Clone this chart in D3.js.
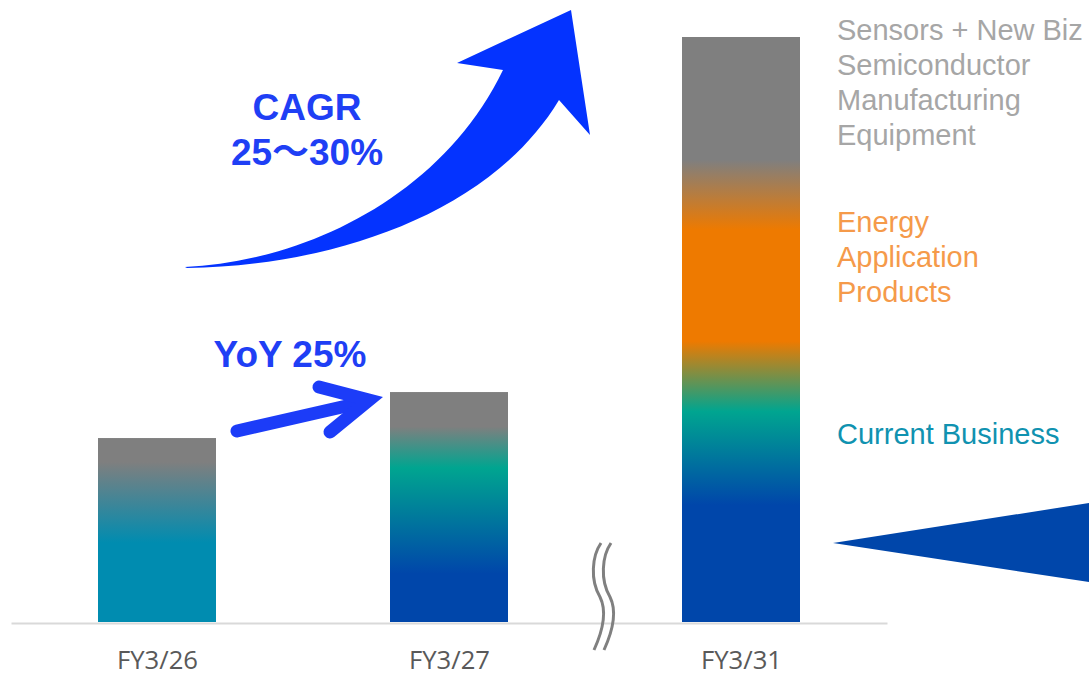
<!DOCTYPE html>
<html>
<head>
<meta charset="utf-8">
<script src="https://cdn.jsdelivr.net/npm/d3@7"></script>
<style>
  html, body { margin: 0; padding: 0; background: #fff; }
  svg { display: block; }
</style>
</head>
<body>
<svg id="chart" width="1089" height="676"></svg>
<script>
// ---------- data ----------
const categories = ["FY3/26", "FY3/27", "FY3/31"];
const totals = [100, 125, 318];            // index, FY3/26 = 100
const legendSensors = ["Sensors + New Biz", "Semiconductor", "Manufacturing", "Equipment"];
const legendEnergy = ["Energy", "Application", "Products"];
const legendCurrent = ["Current Business"];
const cagrLabel = ["CAGR", "25\uFF5E30%"];
const yoyLabel = "YoY 25%";

// ---------- styles ----------
const GRAY = "#7f7f7f", TEAL = "#008cb0", GREEN = "#00a590", BLUE = "#0046aa", ORANGE = "#ee7a00";
const barStops = [
  [[0, GRAY], [0.13, GRAY], [0.57, TEAL], [1, TEAL]],
  [[0, GRAY], [0.15, GRAY], [0.33, GREEN], [0.79, BLUE], [1, BLUE]],
  [[0, GRAY], [0.21, GRAY], [0.33, ORANGE], [0.52, ORANGE], [0.64, GREEN], [0.80, BLUE], [1, BLUE]]
];

const svg = d3.select("#chart");
const baseY = 622, topY = 37;
const x = d3.scalePoint().domain(categories).range([11, 887]).padding(0.5);
const y = d3.scaleLinear().domain([0, d3.max(totals)]).range([baseY, topY]);
const barW = 118;

// gradients
const defs = svg.append("defs");
barStops.forEach((stops, i) => {
  const g = defs.append("linearGradient").attr("id", "g" + i)
    .attr("x1", 0).attr("y1", 0).attr("x2", 0).attr("y2", 1);
  stops.forEach(s => g.append("stop").attr("offset", s[0]).attr("stop-color", s[1]));
});

// bars
svg.selectAll("rect.bar").data(totals).join("rect")
  .attr("class", "bar")
  .attr("x", (d, i) => x(categories[i]) - barW / 2)
  .attr("y", d => y(d))
  .attr("width", barW)
  .attr("height", d => baseY - y(d))
  .attr("fill", (d, i) => `url(#g${i})`);

// axis
const xAxis = d3.axisBottom(x).tickSize(0).tickPadding(28);
const ax = svg.append("g").attr("transform", `translate(0,${baseY + 1})`).call(xAxis);
ax.select(".domain").attr("stroke", "#d9d9d9").attr("stroke-width", 2);
ax.selectAll("text")
  .attr("fill", "#595959")
  .attr("font-family", "'Open Sans', 'Noto Sans', sans-serif")
  .attr("font-size", 25)
  .attr("textLength", 81)
  .attr("lengthAdjust", "spacingAndGlyphs");

// break symbol
const bx = (x(categories[1]) + x(categories[2])) / 2 + 4;
[0, 10].forEach(off => {
  svg.append("path")
    .attr("d", `M${bx + 2 + off},543 C${bx - 7 + off},556 ${bx - 9 + off},580 ${bx + 1 + off},597 C${bx + 7 + off},609 ${bx + 5 + off},628 ${bx - 5 + off},650`)
    .attr("fill", "none").attr("stroke", "#808080").attr("stroke-width", 3);
});

// CAGR arrow
svg.append("path")
  .attr("d", "M185,267 C300,262 440,200 503,70 L457,63 L571,10 L590,135 L559,100 C490,215 330,266 187,268 Z")
  .attr("fill", "#0433ff");

// YoY arrow
const yoy = svg.append("g").attr("fill", "none").attr("stroke", "#1c3cf8").attr("stroke-width", 13);
yoy.append("path").attr("d", "M237,431 L364,402").attr("stroke-linecap", "round");
yoy.append("path").attr("d", "M319,387 L369,400 L330,432").attr("stroke-linecap", "round").attr("stroke-linejoin", "miter");

// annotation texts
const boldFont = "'Liberation Sans', Arial, 'Noto Sans CJK JP', sans-serif";
svg.selectAll("text.cagr").data(cagrLabel).join("text")
  .attr("class", "cagr")
  .attr("x", 307).attr("y", (d, i) => 120 + i * 45)
  .attr("text-anchor", "middle")
  .attr("font-family", boldFont).attr("font-weight", "bold").attr("font-size", 37)
  .attr("fill", "#1f3ff5").text(d => d);

svg.append("text").attr("x", 290).attr("y", 367)
  .attr("text-anchor", "middle")
  .attr("font-family", boldFont).attr("font-weight", "bold").attr("font-size", 37)
  .attr("fill", "#1f3ff5").text(yoyLabel);

// legend-ish labels
function legend(lines, y0, color) {
  svg.append("g").selectAll("text").data(lines).join("text")
    .attr("x", 837).attr("y", (d, i) => y0 + i * 35)
    .attr("font-family", "'Liberation Sans', Arial, sans-serif")
    .attr("font-size", 29).attr("fill", color).text(d => d);
}
legend(legendSensors, 40, "#a6a6a6");
legend(legendEnergy, 232, "#f59a4a");
legend(legendCurrent, 444, "#1092b0");

// pointer triangle
svg.append("path").attr("d", "M833,543 L1089,503 L1089,582 Z").attr("fill", "#0046aa");
</script>
</body>
</html>
